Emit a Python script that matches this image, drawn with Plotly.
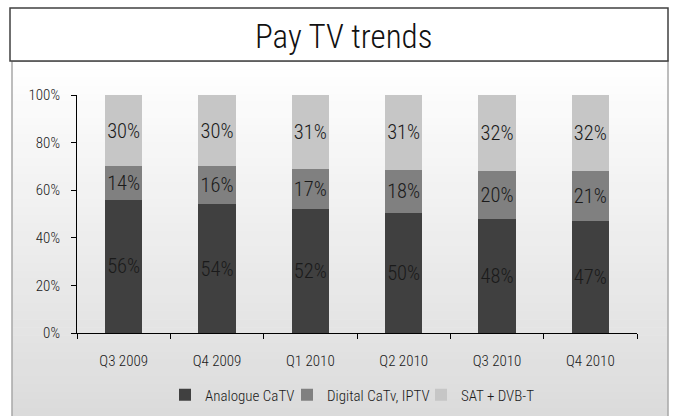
import plotly.graph_objects as go

quarters = ["Q3 2009", "Q4 2009", "Q1 2010", "Q2 2010", "Q3 2010", "Q4 2010"]
analogue = [56, 54, 52, 50, 48, 47]
digital = [14, 16, 17, 18, 20, 21]
sat = [30, 30, 31, 31, 32, 32]
series_names = ["Analogue CaTV", "Digital CaTv, IPTV", "SAT + DVB-T"]
series_colors = ["#404040", "#808080", "#c6c6c6"]

W, H = 673, 416
L, R, T, B = 77, 637, 95, 333
FONT = "Roboto Condensed, DejaVu Sans Condensed, sans-serif"
WT = 300
TXT = "#1a1a1a"

def px(x):
    return (x - L) / (R - L)

def py(y):
    return (B - y) / (B - T)

legend_ids = ["legend", "legend2", "legend3"]
legend_text_x = [205, 327, 461]

fig = go.Figure()
for name, vals, col, lid in zip(series_names, [analogue, digital, sat], series_colors, legend_ids):
    fig.add_trace(go.Bar(
        x=quarters, y=vals, name=name, marker=dict(color=col, line=dict(width=0)),
        text=[f"{v}%" for v in vals], textposition="inside", insidetextanchor="middle",
        textangle=0, constraintext="none",
        textfont=dict(size=20.5, color=TXT, family=FONT, weight=WT),
        hoverinfo="skip", legend=lid,
    ))

shapes = []
n = 44
top, bot = 61, 416
for i in range(n):
    y0 = top + (bot - top) * i / n
    y1 = top + (bot - top) * (i + 1) / n + 0.5
    g = int(round(255 - (255 - 219) * (i + 0.5) / n))
    shapes.append(dict(type="rect", xref="paper", yref="paper", layer="below",
                       x0=px(12), x1=px(668), y0=py(y0), y1=py(y1),
                       fillcolor=f"rgb({g},{g},{g})", line=dict(width=0)))
shapes.append(dict(type="rect", xref="paper", yref="paper", layer="below",
                   x0=px(12), x1=px(668), y0=py(61), y1=py(420),
                   fillcolor="rgba(0,0,0,0)", line=dict(color="#a8a8a8", width=1.5)))
shapes.append(dict(type="rect", xref="paper", yref="paper", layer="below",
                   x0=px(10), x1=px(668), y0=py(61), y1=py(8),
                   fillcolor="white", line=dict(color="#404040", width=1.5)))

legend_common = dict(orientation="h", yanchor="middle", y=py(395), xanchor="left",
                     font=dict(size=15, family=FONT, weight=WT, color=TXT),
                     bgcolor="rgba(0,0,0,0)", borderwidth=0, itemwidth=30)
legends = {}
for lid, tx in zip(legend_ids, legend_text_x):
    legends[lid] = dict(legend_common, x=px(tx - 40))

fig.update_layout(
    width=W, height=H,
    margin=dict(l=L, r=W - R, t=T, b=H - B, pad=0, autoexpand=False),
    barmode="stack", barnorm="percent", bargap=0.6,
    paper_bgcolor="white", plot_bgcolor="rgba(0,0,0,0)",
    font=dict(family=FONT, color=TXT, size=15, weight=WT),
    shapes=shapes,
    showlegend=True,
    uniformtext=dict(mode=False),
    annotations=[dict(text="Pay TV trends", xref="paper", yref="paper",
                      x=px(343), y=py(36), xanchor="center", yanchor="middle",
                      showarrow=False, font=dict(size=33, family=FONT, color="#111", weight=WT))],
    **legends,
)
fig.update_xaxes(showline=True, linecolor="black", linewidth=1, ticks="outside",
                 tickson="boundaries", ticklen=5, tickcolor="black", automargin=False,
                 tickfont=dict(size=15, color=TXT), showgrid=False, ticklabelstandoff=14)
fig.update_yaxes(range=[0, 100], tickvals=[0, 20, 40, 60, 80, 100],
                 ticktext=["0%", "20%", "40%", "60%", "80%", "100%"],
                 showline=True, linecolor="black", linewidth=1, ticks="outside",
                 ticklen=5, tickcolor="black", showgrid=False, zeroline=False, automargin=False,
                 tickfont=dict(size=15, color=TXT), ticklabelstandoff=8)

fig.write_html("out.html", config={"displayModeBar": False},
               post_script="document.body.style.margin='0';")
